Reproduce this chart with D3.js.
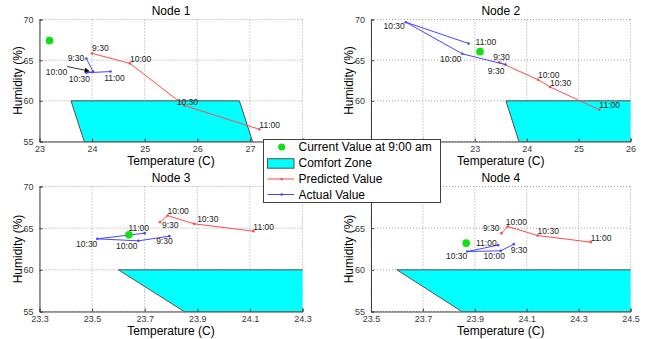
<!DOCTYPE html>
<html><head><meta charset="utf-8">
<script src="https://cdn.jsdelivr.net/npm/d3@7"></script>
<style>
body{margin:0;background:#fff;}
svg{font-family:"Liberation Sans",Arial,sans-serif;}
</style></head>
<body>
<svg id="chart" width="646" height="339"></svg>
<script>
// ---------- DATA ----------
const nodeNames = ["Node 1","Node 2","Node 3","Node 4"];
const times = ["9:30","10:00","10:30","11:00"];
// x-axis tick labels per node
const xTicks1 = [23,24,25,26,27,28];
const xTicks2 = [21,22,23,24,25,26];
const xTicks3 = [23.3,23.5,23.7,23.9,24.1,24.3];
const xTicks4 = [23.5,23.7,23.9,24.1,24.3,24.5];
const yTicks = [55,60,65,70];
// current value at 9:00 am [temp, humidity]
const current1 = [23.19,67.4];
const current2 = [23.10,66.05];
const current3 = [23.64,64.2];
const current4 = [23.867,63.2];
// predicted series: temperature / humidity at 9:30,10:00,10:30,11:00
const predT1 = [24.00,24.72,25.76,27.18], predH1 = [65.83,64.6,59.4,56.5];
const predT2 = [23.47,24.22,24.45,25.40], predH2 = [64.75,62.6,61.7,58.9];
const predT3 = [23.758,23.787,23.888,24.113], predH3 = [65.72,66.52,65.52,64.64];
const predT4 = [24.003,24.027,24.142,24.347], predH4 = [64.4,65.2,64.12,63.32];
// actual series
const actT1 = [23.89,24.02,23.89,24.35], actH1 = [65.2,63.6,63.45,63.6];
const actT2 = [23.59,22.76,21.67,22.88], actH2 = [64.46,65.78,69.67,67.05];
const actT3 = [23.794,23.676,23.52,23.70], actH3 = [64.04,63.48,63.72,64.4];
const actT4 = [24.05,24.00,23.871,23.99], actH4 = [63.08,62.28,62.2,62.96];
// comfort zone polygon (temperature, humidity)
const comfortT = [23.6,26.8,27.05,23.85];
const comfortH = [60,60,55,55];
const legendLabels = ["Current Value at 9:00 am","Comfort Zone","Predicted Value","Actual Value"];

// ---------- LAYOUT ----------
// hx / hy: tick labels that sit under the legend box (not visible)
const panels = [
  {name:nodeNames[0], xt:xTicks1, x0:39.5, x1:302.5, y0:19.5, y1:141.5, cur:current1, pT:predT1,pH:predH1,aT:actT1,aH:actH1,
   hx:[28], hy:[],
   predLab:[[0,-5,"start"],[0,-4,"start"],[-8,-4,"start"],[0,-4,"start"]],
   actLab:[[-2,-1,"end"],null,[-7,6,"middle"],[4,6,"middle"]]},
  {name:nodeNames[1], xt:xTicks2, x0:371, x1:630.5, y0:19.5, y1:141.5, cur:current2, pT:predT2,pH:predH2,aT:actT2,aH:actH2,
   hx:[21,22], hy:[55],
   predLab:[[-6,-5,"start"],[0,-5,"start"],[0,-4,"start"],[0,-4.5,"start"]],
   actLab:[[-1,6,"end"],[-1,5,"end"],[-1,4,"end"],[7,-1,"start"]]},
  {name:nodeNames[2], xt:xTicks3, x0:39.5, x1:302.5, y0:186.5, y1:311.5, cur:current3, pT:predT3,pH:predH3,aT:actT3,aH:actH3,
   hx:[], hy:[],
   predLab:[[2,3,"start"],[0,-5,"start"],[3,-5,"start"],[0,-4.5,"start"]],
   actLab:[[-5,5,"middle"],[-1,5,"end"],[0,5,"end"],[-6,-5.5,"middle"]]},
  {name:nodeNames[3], xt:xTicks4, x0:371, x1:630.5, y0:186.5, y1:311.5, cur:current4, pT:predT4,pH:predH4,aT:actT4,aH:actH4,
   hx:[], hy:[70],
   predLab:[[-2,-5,"end"],[-2,-4.5,"start"],[0,-4.5,"start"],[0,-4.5,"start"]],
   actLab:[[-3,6,"start"],[-6.5,5.5,"middle"],[0,4,"end"],[-1.5,-2.5,"end"]]}
];

const RED = "#ff4b4b", BLUE = "#4646ff", GREEN = "#10e010", CYAN = "#00ffff";
const svg = d3.select("#chart");
const defs = svg.append("defs");
defs.append("marker").attr("id","arrow").attr("viewBox","0 0 10 10").attr("refX",9).attr("refY",5)
  .attr("markerWidth",7).attr("markerHeight",5).attr("orient","auto").attr("markerUnits","userSpaceOnUse")
  .append("path").attr("d","M0,0L10,5L0,10z").attr("fill","#000");

panels.forEach((p,i)=>{
  const x = d3.scaleLinear().domain([p.xt[0], p.xt[p.xt.length-1]]).range([p.x0,p.x1]);
  const y = d3.scaleLinear().domain([55,70]).range([p.y1,p.y0]);
  const g = svg.append("g");
  defs.append("clipPath").attr("id","clip"+i).append("rect")
    .attr("x",p.x0).attr("y",p.y0).attr("width",p.x1-p.x0).attr("height",p.y1-p.y0);

  // grid
  g.append("g").selectAll("line").data(p.xt).join("line")
    .attr("x1",d=>x(d)).attr("x2",d=>x(d)).attr("y1",p.y0).attr("y2",p.y1)
    .attr("stroke","#8a8a8a").attr("stroke-width",0.8).attr("stroke-dasharray","1,2");
  g.append("g").selectAll("line").data(yTicks).join("line")
    .attr("y1",d=>y(d)).attr("y2",d=>y(d)).attr("x1",p.x0).attr("x2",p.x1)
    .attr("stroke","#8a8a8a").attr("stroke-width",0.8).attr("stroke-dasharray","1,2");

  // comfort zone
  const poly = comfortT.map((t,k)=>[x(t),y(comfortH[k])]);
  g.append("polygon").attr("clip-path","url(#clip"+i+")")
    .attr("points",poly.map(d=>d.join(",")).join(" "))
    .attr("fill",CYAN).attr("stroke","#505050").attr("stroke-width",1);

  // axes (left & bottom)
  const fx = d3.format(p.xt[0]%1?".1f":"d");
  const xAxis = d3.axisBottom(x).tickValues(p.xt).tickSize(-3).tickPadding(4.5)
    .tickFormat(d=>p.hx.includes(d)?"":fx(d));
  const gx = g.append("g").attr("transform",`translate(0,${p.y1})`).call(xAxis);
  const yAxis = d3.axisLeft(y).tickValues(yTicks).tickSize(-3).tickPadding(6)
    .tickFormat(d=>p.hy.includes(d)?"":d3.format("d")(d));
  const gy = g.append("g").attr("transform",`translate(${p.x0},0)`).call(yAxis);
  [gx,gy].forEach(a=>{
    a.select(".domain").attr("stroke","#404040");
    a.selectAll(".tick line").attr("stroke","#404040");
    a.selectAll("text").attr("fill","#3a3a3a").style("font-size","9px");
  });

  // predicted line
  const line = d3.line().x(d=>x(d[0])).y(d=>y(d[1]));
  const pred = p.pT.map((t,k)=>[t,p.pH[k]]);
  const act = p.aT.map((t,k)=>[t,p.aH[k]]);
  g.append("path").attr("d",line(pred)).attr("fill","none").attr("stroke",RED).attr("stroke-width",1);
  g.append("g").selectAll("circle").data(pred).join("circle").attr("cx",d=>x(d[0])).attr("cy",d=>y(d[1])).attr("r",1.3).attr("fill",RED);
  g.append("path").attr("d",line(act)).attr("fill","none").attr("stroke",BLUE).attr("stroke-width",1);
  g.append("g").selectAll("circle").data(act).join("circle").attr("cx",d=>x(d[0])).attr("cy",d=>y(d[1])).attr("r",1.3).attr("fill",BLUE);

  // current value
  g.append("circle").attr("cx",x(p.cur[0])).attr("cy",y(p.cur[1])).attr("r",3.8).attr("fill",GREEN);

  // point labels
  const labs = [];
  pred.forEach((d,k)=>{ if(p.predLab[k]) labs.push({d, t:times[k], o:p.predLab[k]}); });
  act.forEach((d,k)=>{ if(p.actLab[k]) labs.push({d, t:times[k], o:p.actLab[k]}); });
  g.append("g").selectAll("text").data(labs).join("text")
    .attr("x",l=>x(l.d[0])+l.o[0]).attr("y",l=>y(l.d[1])+l.o[1])
    .attr("text-anchor",l=>l.o[2]).attr("dominant-baseline","central")
    .style("font-size","8.5px").attr("fill","#222").text(l=>l.t);

  // title & axis labels
  g.append("text").attr("x",(p.x0+p.x1)/2).attr("y",p.y0-8.5).attr("text-anchor","middle")
    .attr("dominant-baseline","central").style("font-size","12px").text(p.name);
  g.append("text").attr("x",(p.x0+p.x1)/2).attr("y",p.y1+19.5).attr("text-anchor","middle")
    .attr("dominant-baseline","central").style("font-size","12px").text("Temperature (C)");
  g.append("text").attr("transform",`translate(${p.x0-22},${(p.y0+p.y1)/2}) rotate(-90)`).attr("text-anchor","middle")
    .attr("dominant-baseline","central").style("font-size","12px").text("Humidity (%)");

  // arrow annotation for the actual 10:00 point in Node 1
  if(i===0){
    const tx = x(act[1][0]), ty = y(act[1][1]);
    g.append("line").attr("x1",tx-26).attr("y1",ty-5).attr("x2",tx-4).attr("y2",ty-0.5)
      .attr("stroke","#000").attr("stroke-width",0.8).attr("marker-end","url(#arrow)");
    g.append("text").attr("x",tx-26).attr("y",ty).attr("text-anchor","end").attr("dominant-baseline","central")
      .style("font-size","8.5px").attr("fill","#222").text(times[1]);
  }
});

// ---------- LEGEND ----------
const lg = svg.append("g");
lg.append("rect").attr("x",263.5).attr("y",139.5).attr("width",177).attr("height",63)
  .attr("fill","#fff").attr("stroke","#404040").attr("stroke-width",1);
const rowY = [147,163.2,179,194.5];
lg.append("circle").attr("cx",281.7).attr("cy",rowY[0]).attr("r",3.5).attr("fill",GREEN);
lg.append("rect").attr("x",267.5).attr("y",rowY[1]-4.5).attr("width",26.5).attr("height",9.5)
  .attr("fill",CYAN).attr("stroke","#505050");
[[RED,rowY[2]],[BLUE,rowY[3]]].forEach(([c,yy])=>{
  lg.append("line").attr("x1",267.5).attr("x2",294).attr("y1",yy).attr("y2",yy).attr("stroke",c).attr("stroke-width",1);
  lg.append("circle").attr("cx",281.7).attr("cy",yy).attr("r",1.3).attr("fill",c);
});
lg.selectAll("text.lt").data(legendLabels).join("text").attr("class","lt")
  .attr("x",298.5).attr("y",(d,k)=>rowY[k]).attr("dominant-baseline","central")
  .style("font-size","12px").attr("fill","#000").text(d=>d);
</script>
</body></html>
